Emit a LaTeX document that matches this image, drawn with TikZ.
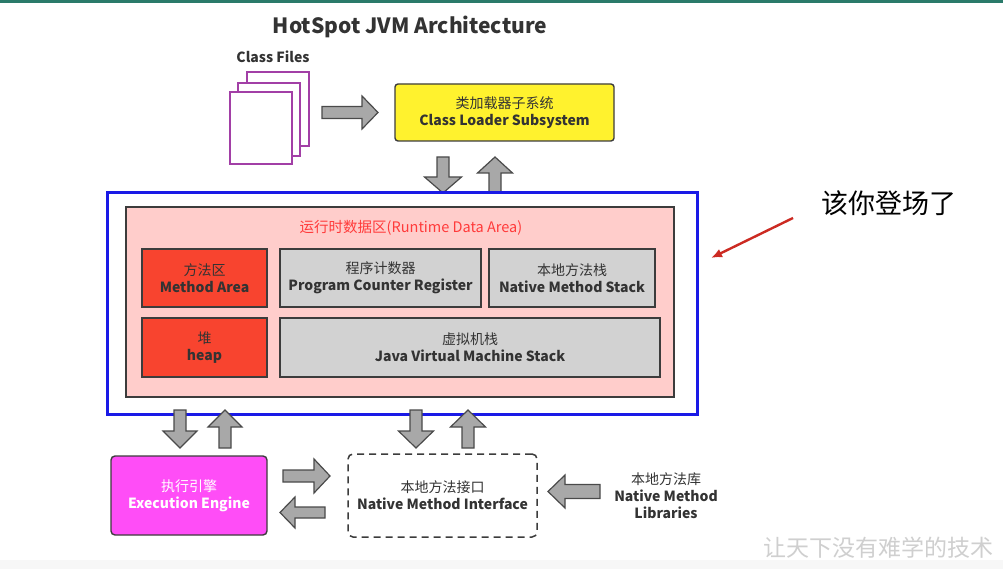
\documentclass[tikz,border=0pt]{standalone}
\usepackage{fontspec}
\setmainfont{Noto Sans CJK SC}
\usetikzlibrary{arrows.meta}
\definecolor{txt}{HTML}{333333}
\definecolor{bord}{HTML}{3C3C3C}
\definecolor{ylw}{HTML}{FFF22E}
\definecolor{redbox}{HTML}{F8442F}
\definecolor{greybox}{HTML}{D2D2D2}
\definecolor{pinkbox}{HTML}{FFCDCB}
\definecolor{mag}{HTML}{FF4DF7}
\definecolor{purp}{HTML}{A23FA6}
\definecolor{bluefr}{HTML}{1A1AE6}
\definecolor{rtred}{HTML}{FF3A3A}
\definecolor{arrfill}{HTML}{A8A8A8}
\definecolor{arrdraw}{HTML}{4A4A4A}
\definecolor{tealbar}{HTML}{2A7A6A}
\definecolor{annred}{HTML}{CC2A22}
\definecolor{wmark}{HTML}{CFCFCF}
\tikzset{
  boxtext/.style={font=\fontsize{14}{17}\selectfont, text=txt, align=center},
  cell/.style={draw=bord, line width=1.4pt, inner sep=0pt, boxtext},
  page/.style={draw=purp, fill=white, line width=1.6pt},
  arrstyle/.style={draw=arrdraw, fill=arrfill, line width=1.2pt, line join=miter},
  % length / head width / shaft width / head length ; points to +x
  pics/barrow/.style args={#1/#2/#3/#4}{code={
    \draw[arrstyle] ({-#1/2},{-#3/2}) -- ({#1/2-#4},{-#3/2}) -- ({#1/2-#4},{-#2/2})
      -- ({#1/2},0) -- ({#1/2-#4},{#2/2}) -- ({#1/2-#4},{#3/2}) -- ({-#1/2},{#3/2}) -- cycle;
  }},
}
\begin{document}
\begin{tikzpicture}[x=1pt,y=-1pt]
\useasboundingbox (0,0) rectangle (1003,569);
\fill[white] (0,0) rectangle (1003,569);
\fill[tealbar] (0,0) rectangle (1003,3);
\fill[black!3] (0,560) rectangle (1003,569);

% title
\node[font=\fontsize{21}{24}\selectfont\bfseries, text=txt] (title) at (410,27) {HotSpot JVM Architecture};
\node[font=\fontsize{14}{16}\selectfont\bfseries, text=txt] (cftext) at (273,57) {Class Files};

% class files pages
\draw[page] (247,72) rectangle (309,146);
\draw[page] (238,83) rectangle (300,156);
\draw[page] (230,92) rectangle (292,164);

% class loader
\node[cell, fill=ylw, rounded corners=3pt, minimum width=219pt, minimum height=57pt] (cl) at (504.5,112.5)
  {类加载器子系统\\\bfseries Class Loader Subsystem};

\pic (a1) at (350,112.5) {barrow=56/33/12/16};
\pic[rotate=-90] (a2) at (443,175) {barrow=36/37/12/16};
\pic[rotate=90] (a3) at (495,175) {barrow=36/35/12/16};

% runtime data area
\node[draw=bluefr, line width=3pt, minimum width=590pt, minimum height=221pt, inner sep=0pt] (blue) at (402,303.5) {};
\node[draw=bord, fill=pinkbox, line width=1.4pt, minimum width=548pt, minimum height=190pt, inner sep=0pt] (pink) at (400,302) {};
\node[font=\fontsize{14.5}{16}\selectfont, text=rtred] (rtitle) at (411,228) {运行时数据区(Runtime Data Area)};

\node[cell, fill=redbox, minimum width=125pt, minimum height=58pt] (ma) at (204.5,278)
  {方法区\\\bfseries Method Area};
\node[cell, fill=greybox, minimum width=201pt, minimum height=58pt] (pc) at (380.5,278)
  {程序计数器\\\bfseries Program Counter Register};
\node[cell, fill=greybox, minimum width=166pt, minimum height=58pt] (nms) at (572,278)
  {本地方法栈\\\bfseries Native Method Stack};
\node[cell, fill=redbox, minimum width=125pt, minimum height=59pt] (heap) at (204.5,347.5)
  {堆\\\bfseries heap};
\node[cell, fill=greybox, minimum width=380pt, minimum height=59pt] (jvms) at (470,347.5)
  {虚拟机栈\\\bfseries Java Virtual Machine Stack};

% arrows below the runtime data area
\pic[rotate=-90] (a4) at (180,429) {barrow=38/34/12/17};
\pic[rotate=90] (a5) at (225,429) {barrow=38/34/12/17};
\pic[rotate=-90] (a6) at (416,429) {barrow=38/35/12/17};
\pic[rotate=90] (a7) at (468,429) {barrow=38/35/12/17};

% execution engine
\node[cell, fill=mag, rounded corners=4pt, minimum width=156pt, minimum height=79pt, text=white] (ee) at (189,495.5)
  {执行引擎\\\bfseries Execution Engine};
% native method interface
\node[draw=bord, dash pattern=on 7pt off 5pt, line width=1.5pt, rounded corners=5pt, minimum width=189pt, minimum height=83pt, inner sep=0pt, boxtext] (nmi) at (442.5,495.5)
  {本地方法接口\\\bfseries Native Method Interface};

\pic (a8) at (306.5,476) {barrow=47/34/12/16};
\pic[rotate=180] (a9) at (302.5,512.5) {barrow=45/31/11/15};
\pic[rotate=180] (a10) at (574,491.5) {barrow=52/33/14/17};

\node[boxtext] (lib) at (666,496) {本地方法库\\\bfseries Native Method\\\bfseries Libraries};

% annotation
\node[font=\fontsize{27}{30}\selectfont, text=black] (ann) at (889,203) {该你登场了};
\coordinate (annstart) at (793,218);
\coordinate (annend) at (711,258);
\draw[annred, line width=2.4pt, -{Latex[length=11pt,width=9pt]}] (annstart) -- (annend);

% watermark
\node[font=\fontsize{23}{26}\selectfont, text=wmark] (wm) at (878,548) {让天下没有难学的技术};
\end{tikzpicture}
\end{document}
